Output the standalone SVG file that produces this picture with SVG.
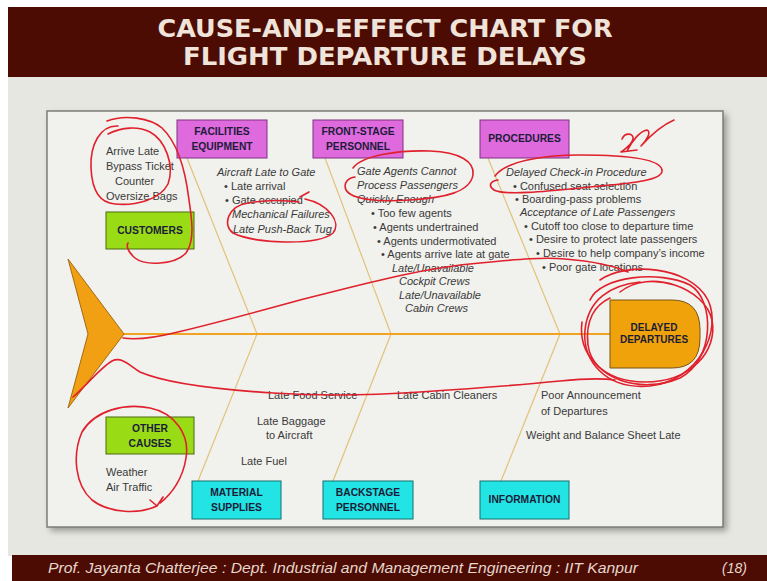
<svg xmlns="http://www.w3.org/2000/svg" width="767" height="581" viewBox="0 0 767 581">
<defs>
<filter id="shadow" x="-5%" y="-5%" width="110%" height="110%"><feGaussianBlur stdDeviation="3"/></filter>
<style>
.bar{fill:#4c0c04}
.title{font-family:"DejaVu Sans",sans-serif;font-weight:bold;font-size:24px;fill:#efe3da;text-anchor:middle}
.foot{font-family:"Liberation Sans",Arial,sans-serif;font-style:italic;font-size:14px;fill:#e6d6cc}
.t{font-family:"Liberation Sans",Arial,sans-serif;font-size:11px;fill:#3a3a3a}
.i{font-style:italic}
.lbl{font-family:"Liberation Sans",Arial,sans-serif;font-weight:bold;font-size:10.3px;fill:#1c1c38;text-anchor:middle}
.mag{fill:#de6ade;stroke:#7e307e;stroke-width:1}
.grn{fill:#99dc16;stroke:#4c6a10;stroke-width:1}
.cyn{fill:#22e4e4;stroke:#157070;stroke-width:1}
.bone{stroke:#e2c27a;stroke-width:1.2;fill:none}
.spine{stroke:#f0a422;stroke-width:2.2;fill:none}
.red{stroke:#e0202c;stroke-width:1.6;fill:none;stroke-linecap:round;stroke-linejoin:round}
</style>
</defs>
<rect x="0" y="0" width="767" height="581" fill="#ffffff"/>
<rect x="8" y="76" width="759" height="480" fill="#e7e7e1"/>
<rect class="bar" x="8" y="7" width="759" height="70"/>
<text class="title" x="385" y="37" textLength="455" lengthAdjust="spacingAndGlyphs">CAUSE-AND-EFFECT CHART FOR</text>
<text class="title" x="385" y="65" textLength="404" lengthAdjust="spacingAndGlyphs">FLIGHT DEPARTURE DELAYS</text>

<rect x="50" y="114" width="677" height="417" fill="#9a9a94" filter="url(#shadow)"/>
<rect x="47" y="111" width="676" height="416" fill="#f1f1ed" stroke="#7c7c78" stroke-width="1.5"/>

<g id="connectors">
<line class="bone" x1="187" y1="158" x2="257" y2="334"/>
<line class="bone" x1="325" y1="158" x2="391" y2="334"/>
<line class="bone" x1="488" y1="158" x2="560" y2="334"/>
<line class="bone" x1="257" y1="334" x2="198" y2="481"/>
<line class="bone" x1="391" y1="334" x2="333" y2="481"/>
<line class="bone" x1="560" y1="334" x2="501" y2="481"/>
<line class="spine" x1="122" y1="334" x2="611" y2="334"/>
</g>

<g id="tail"><polygon points="68,259 124,334 68,408 88,334" fill="#f0a012" stroke="#a56a10" stroke-width="1"/></g>

<g id="head">
<path d="M610,300 H672 Q700,300 700,330 V338 Q700,368 672,368 H610 Z" fill="#f0a20a" stroke="#7a5414" stroke-width="1"/>
<text class="lbl" x="654" y="331" style="font-size:10px">DELAYED</text>
<text class="lbl" x="654" y="343" style="font-size:10px">DEPARTURES</text>
</g>

<g id="facilities">
<rect class="mag" x="177" y="120" width="90" height="38"/>
<text class="lbl" x="222" y="135">FACILITIES</text>
<text class="lbl" x="222" y="150">EQUIPMENT</text>
<text class="t i" x="217" y="176">Aircraft Late to Gate</text>
<text class="t" x="224" y="190">• Late arrival</text>
<text class="t" x="225" y="204">• Gate occupied</text>
<text class="t i" x="232" y="218">Mechanical Failures</text>
<text class="t i" x="233" y="233">Late Push-Back Tug</text>
</g>

<g id="frontstage">
<rect class="mag" x="313" y="120" width="90" height="38"/>
<text class="lbl" x="358" y="135">FRONT-STAGE</text>
<text class="lbl" x="358" y="150">PERSONNEL</text>
<text class="t i" x="357" y="175">Gate Agents Cannot</text>
<text class="t i" x="357" y="189">Process Passengers</text>
<text class="t i" x="357" y="203">Quickly Enough</text>
<text class="t" x="371" y="217">• Too few agents</text>
<text class="t" x="373" y="231">• Agents undertrained</text>
<text class="t" x="377" y="245">• Agents undermotivated</text>
<text class="t" x="381" y="258">• Agents arrive late at gate</text>
<text class="t i" x="392" y="272">Late/Unavailable</text>
<text class="t i" x="399" y="285">Cockpit Crews</text>
<text class="t i" x="399" y="299">Late/Unavailable</text>
<text class="t i" x="405" y="312">Cabin Crews</text>
</g>

<g id="procedures">
<rect class="mag" x="480" y="120" width="89" height="38"/>
<text class="lbl" x="524.5" y="142">PROCEDURES</text>
<text class="t i" x="506" y="176">Delayed Check-in Procedure</text>
<text class="t" x="513" y="190">• Confused seat selection</text>
<text class="t" x="515" y="203">• Boarding-pass problems</text>
<text class="t i" x="520" y="216">Acceptance of Late Passengers</text>
<text class="t" x="524" y="230">• Cutoff too close to departure time</text>
<text class="t" x="529" y="243">• Desire to protect late passengers</text>
<text class="t" x="536" y="257">• Desire to help company’s income</text>
<text class="t" x="542" y="271">• Poor gate locations</text>
</g>

<g id="customers">
<rect class="grn" x="106" y="212" width="88" height="37"/>
<text class="lbl" x="150" y="234">CUSTOMERS</text>
<text class="t" x="106" y="155">Arrive Late</text>
<text class="t" x="106" y="170">Bypass Ticket</text>
<text class="t" x="115" y="185">Counter</text>
<text class="t" x="106" y="200">Oversize Bags</text>
</g>

<g id="othercauses">
<rect class="grn" x="106" y="417" width="88" height="37"/>
<text class="lbl" x="150" y="432">OTHER</text>
<text class="lbl" x="150" y="447">CAUSES</text>
<text class="t" x="106" y="476">Weather</text>
<text class="t" x="106" y="491">Air Traffic</text>
</g>

<g id="material">
<rect class="cyn" x="192" y="481" width="89" height="38"/>
<text class="lbl" x="236.5" y="496">MATERIAL</text>
<text class="lbl" x="236.5" y="511">SUPPLIES</text>
<text class="t" x="268" y="399">Late Food Service</text>
<text class="t" x="257" y="425">Late Baggage</text>
<text class="t" x="266" y="439">to Aircraft</text>
<text class="t" x="241" y="465">Late Fuel</text>
</g>

<g id="backstage">
<rect class="cyn" x="323" y="481" width="90" height="38"/>
<text class="lbl" x="368" y="496">BACKSTAGE</text>
<text class="lbl" x="368" y="511">PERSONNEL</text>
<text class="t" x="397" y="399">Late Cabin Cleaners</text>
</g>

<g id="information">
<rect class="cyn" x="480" y="481" width="89" height="38"/>
<text class="lbl" x="524.5" y="503">INFORMATION</text>
<text class="t" x="541" y="399">Poor Announcement</text>
<text class="t" x="541" y="415">of Departures</text>
<text class="t" x="526" y="439">Weight and Balance Sheet Late</text>
</g>

<g id="annotations">
<path class="red" d="M107,121 C125,114 150,118 162,128 C180,145 186,175 189,200 C192,220 195,240 186,253 C175,265 145,266 135,258 C128,252 126,246 128,243"/>
<path class="red" d="M118,126 C100,125 90,145 91,168 C92,190 100,203 115,204 C135,206 160,200 168,184 C175,165 165,140 150,132 C138,126 122,127 108,134"/>
<path class="red" d="M300,197 L309,192 M305,199 C328,204 342,222 333,233 C318,246 255,244 233,233 C222,225 228,206 248,203 C265,200 285,200 299,202"/>
<path class="red" d="M353,168 C362,155 400,150 430,151 C460,152 475,162 473,175 C470,192 445,198 410,200 C380,202 352,200 346,190 C343,183 348,178 355,177"/>
<path class="red" d="M495,176 C505,162 540,155 580,155 C620,155 660,158 662,170 C664,182 620,184 590,187 C550,191 505,196 494,190 C488,186 490,181 498,180"/>
<path class="red" d="M622,139 C625,132 634,133 633,139 C632,145 625,149 621,152 L637,150 M627,151 C632,141 640,131 647,130 C652,132 646,141 641,146 C650,136 660,126 674,120"/>
<path class="red" d="M123,338 C135,340 150,339 178,332 C220,322 260,311 300,300 C360,285 420,268 480,263 C520,259 545,257 565,259 C590,261 610,264 628,272"/>
<path class="red" d="M73,397 C85,387 100,368 112,361 C122,356 130,366 140,372 C165,383 210,389 273,393 C320,396 360,396 420,392 C480,388 530,384 560,381 C580,379 600,378 615,380"/>
<path class="red" d="M600,280 C625,262 690,265 708,300 C722,330 700,380 650,386 C605,390 582,360 585,330 C588,300 610,285 640,282"/>
<path class="red" d="M590,300 C600,276 660,270 690,285 C715,300 715,360 680,378 C640,395 592,378 588,345 C585,320 595,305 610,298"/>
<path class="red" d="M620,292 C650,268 705,288 712,320 C718,352 690,382 645,382 C600,382 578,352 582,322"/>
<path class="red" d="M163,497 L157,506 L150,500 M157,506 C140,514 110,514 92,500 C75,485 72,455 82,432 C95,410 125,403 150,408 C175,413 190,435 186,458 C183,478 172,494 160,503"/>
</g>

<rect class="bar" x="12" y="555" width="755" height="26"/>
<text class="foot" x="48" y="573" textLength="590" lengthAdjust="spacingAndGlyphs">Prof. Jayanta Chatterjee : Dept. Industrial and Management Engineering : IIT Kanpur</text>
<text class="foot" x="722" y="573">(18)</text>
</svg>
